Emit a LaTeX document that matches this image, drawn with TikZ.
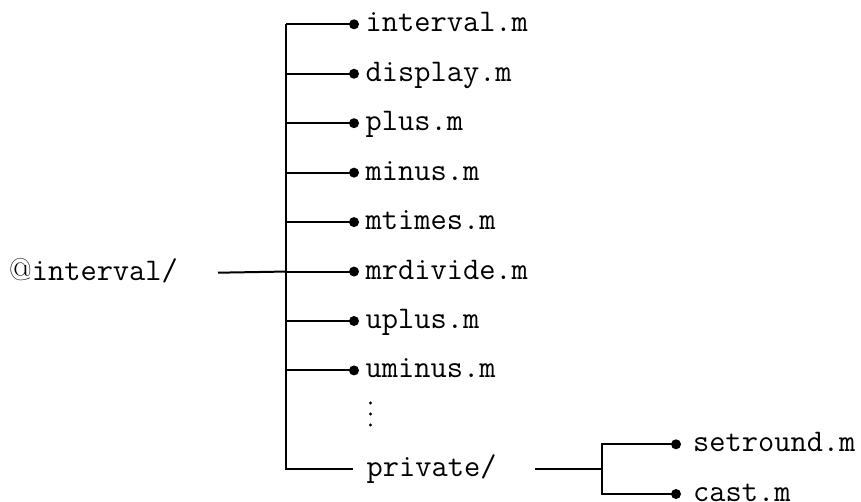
\documentclass[tikz,border=0pt]{standalone}
\usepackage{fix-cm}
\begin{document}
\begin{tikzpicture}[x=1pt,y=-1pt,
  every node/.style={inner sep=0pt, font=\fontsize{31.5}{36}\selectfont\ttfamily},
  file/.style={anchor=base west},
  branch/.style={line width=2pt},
  bullet/.style={fill=black}]
\useasboundingbox (0,0) rectangle (861,502);

% root folder
\node[file] (root) at (9,280.2) {{\rmfamily @}interval/};
\coordinate (rootout) at (218,272.7);

% main column of files
\coordinate (jtop) at (286,24.3);
\coordinate (jbot) at (286,469.3);
\foreach \name/\i/\txt in {f1/0/interval.m, f2/1/display.m, f3/2/plus.m,
    f4/3/minus.m, f5/4/mtimes.m, f6/5/mrdivide.m, f7/6/uplus.m, f8/7/uminus.m} {
  \pgfmathsetmacro{\yy}{24.3+49.45*\i}
  \coordinate (j\name) at (286,\yy);
  \coordinate (d\name) at (354,\yy);
  \node[file] (\name) at (365.5,\yy+7.5) {\txt};
  \draw[branch] (j\name) -- (d\name);
  \fill[bullet] (d\name) circle (5);
}
\draw[branch] (rootout) -- (jf6);

% vertical ellipsis
\foreach \k in {0,1,2}
  \fill (370.5,403+11*\k) circle (1.6);

% trunk with private/ branch
\node[file] (priv) at (366.5,476.8) {private/};
\coordinate (privin) at (353,469.3);
\draw[branch] (jf1) -- (jbot) -- (privin);

% private subtree
\coordinate (privout) at (535,469.3);
\coordinate (pj) at (601.7,469.3);
\coordinate (pjtop) at (601.7,444.3);
\coordinate (pjbot) at (601.7,494);
\coordinate (ds1) at (676,444.3);
\coordinate (ds2) at (676,494);
\node[file] (s1) at (693,451.8) {setround.m};
\node[file] (s2) at (693,501.5) {cast.m};
\draw[branch] (privout) -- (pj);
\draw[branch] (ds1) -- (pjtop) -- (pjbot) -- (ds2);
\fill[bullet] (ds1) circle (5);
\fill[bullet] (ds2) circle (5);
\end{tikzpicture}
\end{document}
